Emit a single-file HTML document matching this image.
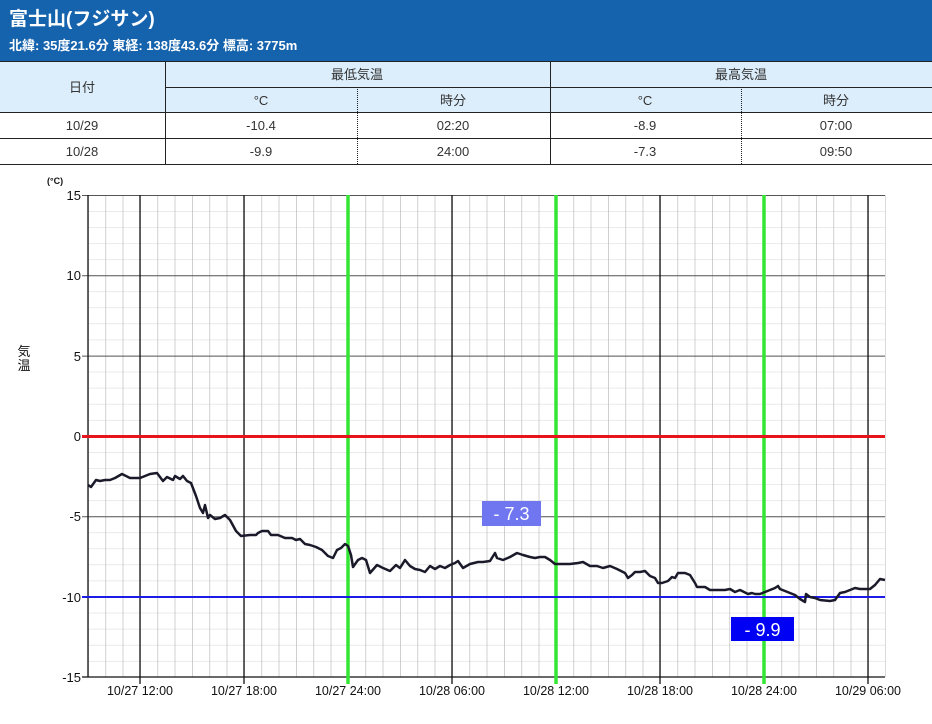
<!DOCTYPE html>
<html><head><meta charset="utf-8"><style>
html,body{margin:0;padding:0;background:#fff;}
svg{display:block;font-family:"Liberation Sans","Noto Sans CJK JP",sans-serif;}
</style></head><body>
<svg width="932" height="724" viewBox="0 0 932 724" xmlns="http://www.w3.org/2000/svg">
<defs>
<pattern id="vp" patternUnits="userSpaceOnUse" x="88" y="0" width="17.3333" height="10"><rect x="-0.7" y="0" width="1.4" height="10" fill="#bdbdbd"/></pattern>
<pattern id="hp" patternUnits="userSpaceOnUse" x="0" y="195" width="10" height="16.0667"><rect x="0" y="-0.6" width="10" height="1.2" fill="#dcdcdc"/></pattern>
</defs>
<rect x="0" y="0" width="932" height="61" fill="#1562ad"/>
<text x="9" y="25" font-size="19" font-weight="bold" fill="#fff">富士山(フジサン)</text>
<text x="9" y="50" font-size="13" font-weight="bold" fill="#fff">北緯: 35度21.6分 東経: 138度43.6分 標高: 3775m</text>
<rect x="0" y="61" width="932" height="51" fill="#dcedfb"/>
<g stroke="#222" stroke-width="1">
<line x1="0" y1="61.5" x2="932" y2="61.5"/>
<line x1="165" y1="87.5" x2="932" y2="87.5"/>
<line x1="0" y1="112.5" x2="932" y2="112.5"/>
<line x1="0" y1="138.5" x2="932" y2="138.5"/>
<line x1="0" y1="164.5" x2="932" y2="164.5"/>
<line x1="165.5" y1="61" x2="165.5" y2="164"/>
<line x1="550.5" y1="61" x2="550.5" y2="164"/>
<line x1="357.5" y1="87" x2="357.5" y2="164" stroke-dasharray="1,1"/>
<line x1="741.5" y1="87" x2="741.5" y2="164" stroke-dasharray="1,1"/>
</g>
<g font-size="13" fill="#333" text-anchor="middle">
<text x="82" y="92">日付</text>
<text x="357" y="79">最低気温</text>
<text x="741" y="79">最高気温</text>
<text x="261" y="105">°C</text>
<text x="453" y="105">時分</text>
<text x="645" y="105">°C</text>
<text x="836" y="105">時分</text>
<text x="82" y="130">10/29</text>
<text x="261" y="130">-10.4</text>
<text x="453" y="130">02:20</text>
<text x="645" y="130">-8.9</text>
<text x="836" y="130">07:00</text>
<text x="82" y="156">10/28</text>
<text x="261" y="156">-9.9</text>
<text x="453" y="156">24:00</text>
<text x="645" y="156">-7.3</text>
<text x="836" y="156">09:50</text>
</g>
<rect x="88" y="195" width="797" height="482" fill="url(#hp)"/>
<rect x="88" y="195" width="798" height="482" fill="url(#vp)"/>
<g stroke="#555" stroke-width="1">
<line x1="82" y1="195.5" x2="885" y2="195.5"/>
<line x1="82" y1="275.8" x2="885" y2="275.8"/>
<line x1="82" y1="356.1" x2="885" y2="356.1"/>
<line x1="82" y1="516.8" x2="885" y2="516.8"/>
</g>
<g stroke="#111" stroke-width="1.3">
<line x1="140" y1="195" x2="140" y2="684"/>
<line x1="244" y1="195" x2="244" y2="684"/>
<line x1="452" y1="195" x2="452" y2="684"/>
<line x1="660" y1="195" x2="660" y2="684"/>
<line x1="868" y1="195" x2="868" y2="684"/>
<line x1="88" y1="195" x2="88" y2="677"/>
<line x1="82" y1="677" x2="885" y2="677"/>
</g>
<g stroke="#33e633" stroke-width="3.5">
<line x1="348" y1="195" x2="348" y2="684"/>
<line x1="556" y1="195" x2="556" y2="684"/>
<line x1="764" y1="195" x2="764" y2="684"/>
</g>
<line x1="82" y1="436.5" x2="885" y2="436.5" stroke="#e8141b" stroke-width="3"/>
<line x1="82" y1="597" x2="885" y2="597" stroke="#1c1ce6" stroke-width="2"/>
<polyline fill="none" stroke="#1a1a2a" stroke-width="2.5" stroke-linejoin="round" points="88,485 91,487 96,480 100,481 105,480 110,480 115,478 122,474 130,478 140,478 150,474 157,473 160,477 163,481 167,477 173,480 175,476 180,479 183,476 187,481 191,483 196,496 200,508 203,513 205,505 208,518 210,515 215,519 220,518 225,515 230,520 236,531 241,536 250,535 256,535 258,533 262,531 268,531 271,535 278,535 285,538 292,538 296,540 300,539 305,544 310,545 316,547 322,550 328,556 333,558 337,550 341,548 345,544 348,546 351,555 353,567 358,560 362,558 366,560 370,573 377,565 383,568 390,571 396,565 400,568 405,560 410,566 415,569 420,570 425,572 430,566 435,569 440,566 445,568 450,565 455,563 458,561 463,568 470,564 478,562 483,562 490,561 495,553 497,558 503,560 510,557 517,553 523,555 530,557 535,558 540,557 545,557 550,560 555,564 560,564 570,564 578,563 583,562 590,566 597,566 603,568 610,566 617,569 625,573 628,578 632,575 635,572 640,572 645,571 650,576 655,578 658,583 662,583 668,581 672,577 675,578 678,573 685,573 690,575 695,583 697,587 705,587 710,590 718,590 725,590 730,589 735,592 740,590 748,594 752,593 755,594 760,594 765,592 770,590 775,588 778,586 780,589 790,593 795,595 800,599 805,602 806,594 810,597 815,598 820,600 830,601 835,600 840,593 845,592 850,590 855,588 860,589 870,589 875,585 880,579 885,580"/>
<rect x="482" y="501" width="59" height="25" fill="#6f76ef"/>
<text x="511.5" y="520" font-size="18" fill="#fff" text-anchor="middle">- 7.3</text>
<rect x="731" y="617" width="63" height="24" fill="#0000f5"/>
<text x="762.5" y="636" font-size="18" fill="#fff" text-anchor="middle">- 9.9</text>
<g font-size="13" fill="#111" text-anchor="end">
<text x="81" y="200">15</text>
<text x="81" y="280">10</text>
<text x="81" y="361">5</text>
<text x="81" y="441">0</text>
<text x="81" y="521">-5</text>
<text x="81" y="602">-10</text>
<text x="81" y="682">-15</text>
</g>
<text x="47" y="184" font-size="9" font-weight="bold" fill="#111">(°C)</text>
<text x="24" y="356" font-size="13" fill="#111" text-anchor="middle">気</text>
<text x="24" y="370" font-size="13" fill="#111" text-anchor="middle">温</text>
<g font-size="12.5" fill="#111" text-anchor="middle">
<text x="140" y="695">10/27 12:00</text>
<text x="244" y="695">10/27 18:00</text>
<text x="348" y="695">10/27 24:00</text>
<text x="452" y="695">10/28 06:00</text>
<text x="556" y="695">10/28 12:00</text>
<text x="660" y="695">10/28 18:00</text>
<text x="764" y="695">10/28 24:00</text>
<text x="868" y="695">10/29 06:00</text>
</g>
</svg>
</body></html>
